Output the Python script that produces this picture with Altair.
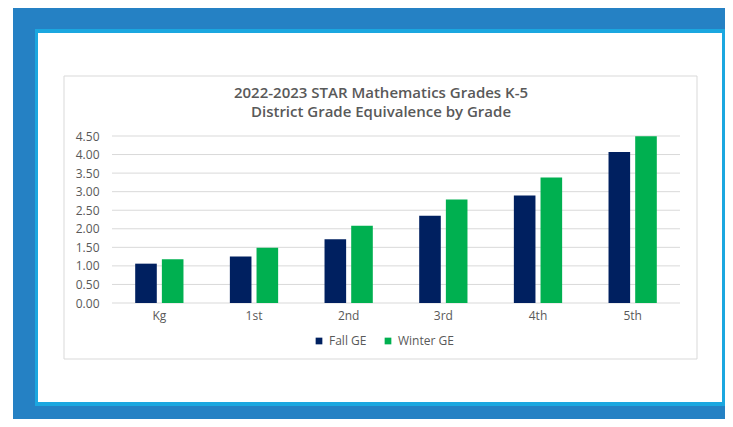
import altair as alt
import pandas as pd

grades = ["Kg", "1st", "2nd", "3rd", "4th", "5th"]
fall_ge = [1.06, 1.25, 1.72, 2.35, 2.90, 4.07]
winter_ge = [1.18, 1.49, 2.08, 2.79, 3.38, 4.49]
series = ["Fall  GE", "Winter GE"]
series_colors = ["#002060", "#00b050"]
y_ticks = [0, 0.5, 1, 1.5, 2, 2.5, 3, 3.5, 4, 4.5]
title_lines = ["2022-2023 STAR Mathematics Grades K-5", "District Grade Equivalence by Grade"]

rows = []
for g, f, w in zip(grades, fall_ge, winter_ge):
    rows.append({"grade": g, "series": series[0], "value": f})
    rows.append({"grade": g, "series": series[1], "value": w})
df = pd.DataFrame(rows)
ticks_df = pd.DataFrame({"value": y_ticks})

FONT = "Open Sans"
TXT = "#595959"

one = pd.DataFrame({"k": [0]})

def frame(x, x2, y, y2, fill, stroke=None):
    kw = {}
    if stroke:
        kw = {"stroke": stroke, "strokeWidth": 1}
    return alt.Chart(one).mark_rect(fill=fill, **kw).encode(
        x=alt.value(x), x2=alt.value(x2), y=alt.value(y), y2=alt.value(y2)
    )

blue = frame(-99, 613, -128, 283, "#2581c4")
light = frame(-77, 613, -107, 270, "#1ba7e0")
white = frame(-74, 610, -103, 266, "#ffffff")
box = frame(-48, 585, -60, 223, "#ffffff", "#d9d9d9")

title1 = alt.Chart(one).mark_text(
    text=title_lines[0], font=FONT, fontSize=15, fontWeight=600, color=TXT
).encode(x=alt.value(269), y=alt.value(-43))
title2 = alt.Chart(one).mark_text(
    text=title_lines[1], font=FONT, fontSize=15, fontWeight=600, color=TXT
).encode(x=alt.value(269), y=alt.value(-24))

yscale = alt.Scale(domain=[0, 4.5], nice=False)
yaxis = alt.Axis(values=y_ticks, format=".2f", domain=False, ticks=False,
                 labelPadding=13, grid=False, zindex=1,
                 labelFont=FONT, labelFontSize=12, labelColor=TXT)

grid = alt.Chart(ticks_df).mark_rule(color="#d9d9d9", strokeWidth=1).encode(
    y=alt.Y("value:Q", scale=yscale, axis=yaxis, title=None)
)

bars = alt.Chart(df).mark_bar().encode(
    x=alt.X("grade:N", sort=grades, title=None,
            scale=alt.Scale(paddingInner=0.49, paddingOuter=0.245),
            axis=alt.Axis(labelAngle=0, ticks=False, domain=False, zindex=1,
                          labelPadding=7, labelFont=FONT, labelFontSize=12, labelColor=TXT)),
    xOffset=alt.XOffset("series:N", sort=series,
                        scale=alt.Scale(paddingInner=0.19, paddingOuter=0)),
    y=alt.Y("value:Q", title=None, scale=yscale, axis=yaxis),
    color=alt.Color("series:N", sort=series, title=None,
                    scale=alt.Scale(domain=series, range=series_colors),
                    legend=alt.Legend(orient="none", legendX=201, legendY=199,
                                      direction="horizontal", symbolType="square",
                                      symbolSize=45, symbolStrokeWidth=0,
                                      columnPadding=12, labelFont=FONT, zindex=1,
                                      labelFontSize=12, labelColor=TXT)),
)

chart = alt.layer(blue, light, white, box, title1, title2, grid, bars).properties(
    width=568, height=167,
    padding={"left": 104, "top": 128, "right": 45, "bottom": 116},
    autosize=alt.AutoSizeParams(type="none"),
    background="#ffffff",
).configure_view(stroke=None)

chart.save("out.html", embed_options={"renderer": "svg", "actions": False})
